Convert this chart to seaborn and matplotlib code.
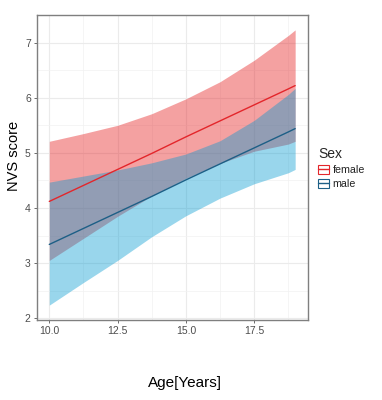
import numpy as np
import pandas as pd
import matplotlib
matplotlib.use("Agg")
import matplotlib.pyplot as plt
import seaborn as sns
from matplotlib.patches import Patch
from matplotlib.lines import Line2D
from matplotlib.ticker import MultipleLocator

# ---- data ----
age = [10, 11.25, 12.5, 13.75, 15, 16.25, 17.5, 18.75, 19]
female_fit = [4.12, 4.41, 4.70, 4.99, 5.29, 5.58, 5.87, 6.16, 6.22]
female_upper = [5.21, 5.35, 5.50, 5.71, 5.98, 6.29, 6.68, 7.13, 7.23]
female_lower = [3.05, 3.45, 3.85, 4.22, 4.54, 4.81, 5.03, 5.16, 5.21]
male_fit = [3.34, 3.63, 3.92, 4.21, 4.51, 4.80, 5.09, 5.38, 5.44]
male_upper = [4.47, 4.58, 4.69, 4.82, 4.98, 5.22, 5.59, 6.06, 6.17]
male_lower = [2.24, 2.65, 3.05, 3.48, 3.86, 4.18, 4.44, 4.64, 4.70]
sexes = ["female", "male"]
x_ticks = [10.0, 12.5, 15.0, 17.5]
y_ticks = [2, 3, 4, 5, 6, 7]

df = pd.concat([
    pd.DataFrame({"Age": age, "fit": female_fit, "lo": female_lower,
                  "hi": female_upper, "Sex": "female"}),
    pd.DataFrame({"Age": age, "fit": male_fit, "lo": male_lower,
                  "hi": male_upper, "Sex": "male"}),
])

line_colors = {"female": "#E3262B", "male": "#1D5F86"}
band_colors = {"female": (0.90, 0.12, 0.13, 0.42), "male": (0.0, 0.60, 0.82, 0.40)}

sns.set_theme(style="white")
plt.rcParams["font.family"] = ["Liberation Sans", "DejaVu Sans"]

fig = plt.figure(figsize=(3.82, 4.0), dpi=100)
W, H = 382, 400
ax = fig.add_axes([37 / W, 1 - 320 / H, (308 - 37) / W, (320 - 15) / H])

for s in sexes:
    d = df[df.Sex == s]
    ax.fill_between(d.Age, d.lo, d.hi, color=band_colors[s], linewidth=0, zorder=2)

sns.lineplot(data=df, x="Age", y="fit", hue="Sex", palette=line_colors,
             ax=ax, legend=False, linewidth=1.0, zorder=3)

ax.set_xlim(9.55, 19.47)
ax.set_ylim(1.97, 7.5)
ax.set_xticks(x_ticks)
ax.set_xticklabels([f"{v:.1f}" for v in x_ticks])
ax.set_yticks(y_ticks)
ax.set_yticklabels([str(v) for v in y_ticks])
ax.xaxis.set_minor_locator(MultipleLocator(1.25))
ax.yaxis.set_minor_locator(MultipleLocator(0.5))
ax.grid(which="major", color="#EBEBEB", linewidth=0.8, zorder=0)
ax.grid(which="minor", color="#F2F2F2", linewidth=0.5, zorder=0)
ax.set_axisbelow(True)
ax.set_xlabel("")
ax.set_ylabel("")
ax.tick_params(axis="both", which="major", length=2.5, width=0.6, color="#555555",
               labelsize=7.5, labelcolor="#4D4D4D", pad=2, left=True, bottom=True)
ax.tick_params(which="minor", length=0)
for sp in ax.spines.values():
    sp.set_color("#7F7F7F")
    sp.set_linewidth(1.0)
ax.set_facecolor("white")

fig.text(185 / W, 1 - 383 / H, "Age[Years]", ha="center", va="center",
         fontsize=11, color="black")
fig.text(14 / W, 1 - 156 / H, "NVS score", ha="center", va="center",
         rotation=90, fontsize=10.5, color="black")

handles = []
for s in sexes:
    handles.append((Patch(facecolor="white", edgecolor=line_colors[s], linewidth=0.8),
                    Line2D([], [], color=line_colors[s], linewidth=1.0)))
leg = ax.legend(handles=handles, labels=sexes, title="Sex", loc="upper left",
                bbox_to_anchor=(314 / W, 1 - 143 / H), bbox_transform=fig.transFigure,
                frameon=False, fontsize=7.7, title_fontsize=10,
                handlelength=1.0, handleheight=0.95, handletextpad=0.35,
                labelspacing=0.35, borderaxespad=0, alignment="left")
for t in leg.get_texts():
    t.set_color("#222222")

fig.savefig("out.png", dpi=100, facecolor="white")
